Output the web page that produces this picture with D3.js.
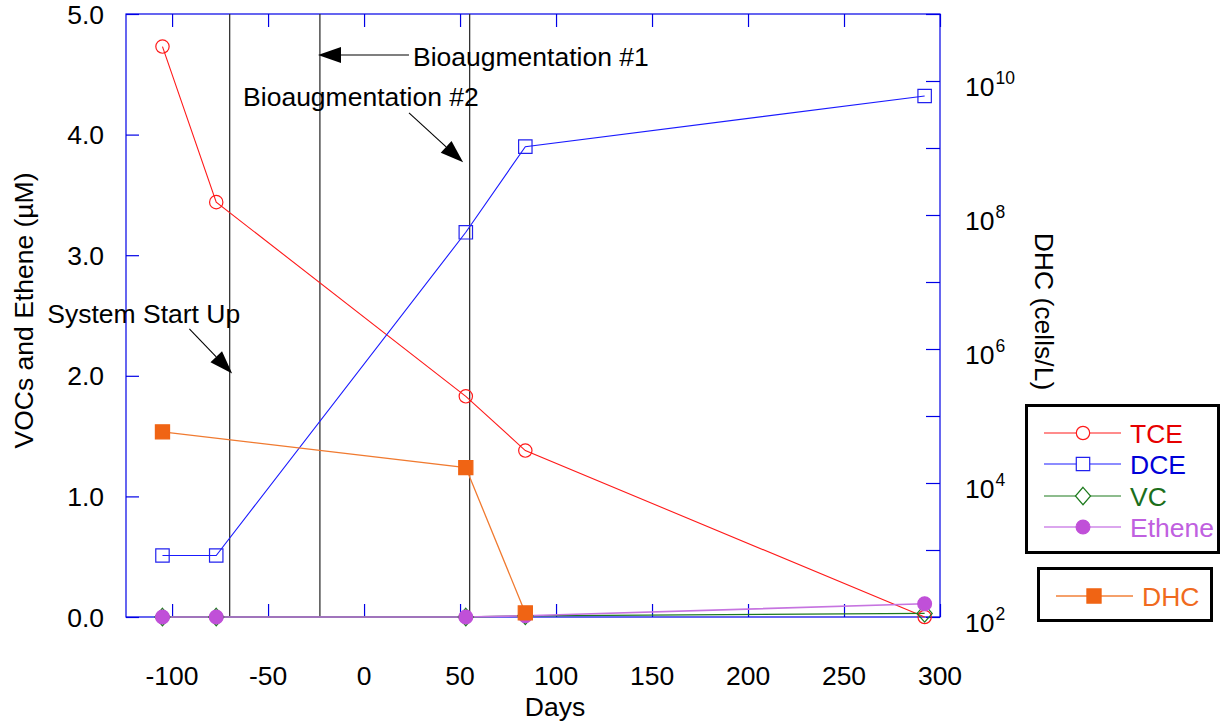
<!DOCTYPE html>
<html>
<head>
<meta charset="utf-8">
<script src="https://cdn.jsdelivr.net/npm/d3@7"></script>
<style>
  html, body { margin: 0; padding: 0; background: #fff; }
  svg { display: block; font-family: "Liberation Sans", Arial, sans-serif; }
</style>
</head>
<body>
<svg id="chart" width="1220" height="721"></svg>
<script>
// ---------------- data ----------------
const sampleDays = [-105, -77, 53, 84, 292];
const tceVals    = [4.73, 3.44, 1.83, 1.38, 0.0];
const dceVals    = [0.51, 0.51, 3.19, 3.90, 4.32];
const vcVals     = [0.0, 0.0, 0.0, 0.01, 0.03];
const etheneVals = [0.0, 0.0, 0.0, 0.01, 0.11];
const dhcDays    = [-105, 53, 84];
const dhcVals    = [5.8e4, 1.7e4, 1.15e2];

const eventDays  = [-70, -23, 55];

const xTicks     = [-100, -50, 0, 50, 100, 150, 200, 250, 300];
const yTicks     = [0, 1, 2, 3, 4, 5];
const yTickLabels = ["0.0", "1.0", "2.0", "3.0", "4.0", "5.0"];
const rTicks     = [1e2, 1e3, 1e4, 1e5, 1e6, 1e7, 1e8, 1e9, 1e10, 1e11];
const rLabelExps = [2, 4, 6, 8, 10];

// annotations in data units (day, µM)
const annoTexts  = ["System Start Up", "Bioaugmentation #1", "Bioaugmentation #2"];
const annoTextAt = [[-165, 2.44], [25.5, 4.57], [-63, 4.24]];
const arrowFrom  = [[-91, 2.39], [23.4, 4.66], [23.4, 4.18]];
const arrowTo    = [[-68.7, 2.02], [-24, 4.66], [51.6, 3.77]];

// ---------------- layout ----------------
const L = 126, R = 940, T = 14, B = 617;
const FONT = 26.5;
const svg = d3.select("#chart");
svg.append("rect").attr("width", 1220).attr("height", 721).attr("fill", "#fff");

const x = d3.scaleLinear().domain([-124, 300]).range([L, R]);
const y = d3.scaleLinear().domain([0, 5]).range([B, T]);
const yr = d3.scaleLog().domain([1e2, 1e11]).range([B, T]);

const axisColor = "#0000e6";

// frame
svg.append("rect").attr("x", L).attr("y", T).attr("width", R - L).attr("height", B - T)
  .attr("fill", "none").attr("stroke", axisColor).attr("stroke-width", 1.2);

// axes using d3 axis generators (inward ticks)
const gB = svg.append("g").attr("transform", `translate(0,${B})`)
  .call(d3.axisBottom(x).tickValues(xTicks).tickSize(-13).tickFormat(""));
const gTop = svg.append("g").attr("transform", `translate(0,${T})`)
  .call(d3.axisTop(x).tickValues(xTicks).tickSize(-13).tickFormat(""));
const gL = svg.append("g").attr("transform", `translate(${L},0)`)
  .call(d3.axisLeft(y).tickValues(yTicks).tickSize(-13).tickFormat(""));
const gR = svg.append("g").attr("transform", `translate(${R},0)`)
  .call(d3.axisRight(yr).tickValues(rTicks).tickSize(-14).tickFormat(""));
[gB, gTop, gL, gR].forEach(g => {
  g.select(".domain").remove();
  g.selectAll(".tick line").attr("stroke", axisColor).attr("stroke-width", 1.2);
});

// tick labels
svg.append("g").selectAll("text").data(xTicks).join("text")
  .attr("x", d => x(d)).attr("y", 685)
  .attr("text-anchor", "middle").attr("font-size", FONT).attr("fill", "#000")
  .text(d => d);
svg.append("g").selectAll("text").data(yTicks).join("text")
  .attr("x", 104).attr("y", d => y(d) + 9.5)
  .attr("text-anchor", "end").attr("font-size", FONT).attr("fill", "#000")
  .text((d, i) => yTickLabels[i]);
const rl = svg.append("g").selectAll("text").data(rLabelExps).join("text")
  .attr("x", 965).attr("y", d => yr(Math.pow(10, d)) + 15)
  .attr("font-size", FONT).attr("fill", "#000");
rl.append("tspan").text("10");
rl.append("tspan").attr("font-size", 17.5).attr("dy", -12).attr("dx", 1).text(d => d);

// axis titles
svg.append("text").attr("transform", `translate(33,${(T + B) / 2 - 5}) rotate(-90)`)
  .attr("text-anchor", "middle").attr("font-size", FONT).attr("fill", "#000")
  .text("VOCs and Ethene (\u00b5M)");
svg.append("text").attr("transform", `translate(1035,${(T + B) / 2 - 4}) rotate(90)`)
  .attr("text-anchor", "middle").attr("font-size", FONT).attr("fill", "#000")
  .text("DHC (cells/L)");
svg.append("text").attr("x", 555).attr("y", 716)
  .attr("text-anchor", "middle").attr("font-size", FONT).attr("fill", "#000")
  .text("Days");

// event lines
svg.append("g").selectAll("line").data(eventDays).join("line")
  .attr("x1", d => x(d)).attr("x2", d => x(d)).attr("y1", T).attr("y2", B)
  .attr("stroke", "#333").attr("stroke-width", 1.3);

// annotations
const ann = svg.append("g");
annoTexts.forEach((t, i) => {
  ann.append("text").attr("x", x(annoTextAt[i][0])).attr("y", y(annoTextAt[i][1]))
    .attr("font-size", FONT).attr("fill", "#000").text(t);
  const x1 = x(arrowFrom[i][0]), y1 = y(arrowFrom[i][1]);
  const x2 = x(arrowTo[i][0]), y2 = y(arrowTo[i][1]);
  const dx = x2 - x1, dy = y2 - y1, len = Math.hypot(dx, dy);
  const ux = dx / len, uy = dy / len, hl = 23, hw = 8;
  const bx = x2 - ux * hl, by = y2 - uy * hl;
  ann.append("line").attr("x1", x1).attr("y1", y1).attr("x2", bx).attr("y2", by)
    .attr("stroke", "#000").attr("stroke-width", 1.1);
  ann.append("path")
    .attr("d", `M${x2},${y2}L${bx - uy * hw},${by + ux * hw}L${bx + uy * hw},${by - ux * hw}Z`)
    .attr("fill", "#000");
});

// ---------------- series ----------------
const symDiamond = {
  draw(ctx, size) {
    const h = Math.sqrt(size) / 2;
    ctx.moveTo(0, -h * 1.15); ctx.lineTo(h, 0); ctx.lineTo(0, h * 1.15); ctx.lineTo(-h, 0); ctx.closePath();
  }
};
const series = [
  { name: "TCE", days: sampleDays, vals: tceVals, sc: y, line: "#ff1a1a", mk: "#ff1a1a", fill: "none", sym: d3.symbolCircle, size: 140, text: "#e60000", lw: 1.1 },
  { name: "DCE", days: sampleDays, vals: dceVals, sc: y, line: "#1a1aff", mk: "#2222ee", fill: "none", sym: d3.symbolSquare, size: 180, text: "#0000d8", lw: 1.1 },
  { name: "VC", days: sampleDays, vals: vcVals, sc: y, line: "#1d7a1d", mk: "#1d7a1d", fill: "none", sym: symDiamond, size: 230, text: "#1b6e1b", lw: 1.3 },
  { name: "Ethene", days: sampleDays, vals: etheneVals, sc: y, line: "#c674e0", mk: "#c050d8", fill: "#c050d8", sym: d3.symbolCircle, size: 150, text: "#c060e0", lw: 1.6 },
  { name: "DHC", days: dhcDays, vals: dhcVals, sc: yr, line: "#f07a30", mk: "#f06414", fill: "#f06414", sym: d3.symbolSquare, size: 200, text: "#f06a20", lw: 1.3 }
];

const plot = svg.append("g");
series.forEach(s => {
  const pts = s.days.map((d, i) => [x(d), s.sc(s.vals[i])]);
  plot.append("path").attr("d", d3.line()(pts)).attr("fill", "none")
    .attr("stroke", s.line).attr("stroke-width", s.lw);
});
series.forEach(s => {
  const pts = s.days.map((d, i) => [x(d), s.sc(s.vals[i])]);
  plot.append("g").selectAll("path").data(pts).join("path")
    .attr("transform", p => `translate(${p[0]},${p[1]})`)
    .attr("d", d3.symbol().type(s.sym).size(s.size))
    .attr("fill", s.fill).attr("stroke", s.mk).attr("stroke-width", 1.2);
});

// ---------------- legends ----------------
const leg = svg.append("g");
leg.append("rect").attr("x", 1026.5).attr("y", 405.5).attr("width", 192).attr("height", 147)
  .attr("fill", "#fff").attr("stroke", "#000").attr("stroke-width", 3);
leg.append("rect").attr("x", 1038.5).attr("y", 568.5).attr("width", 173).attr("height", 52)
  .attr("fill", "#fff").attr("stroke", "#000").attr("stroke-width", 3);

const legendRows = [
  { s: series[0], y: 433, x0: 1044, x1: 1121, mx: 1083, tx: 1130 },
  { s: series[1], y: 464, x0: 1044, x1: 1121, mx: 1083, tx: 1130 },
  { s: series[2], y: 496, x0: 1044, x1: 1121, mx: 1083, tx: 1130 },
  { s: series[3], y: 527, x0: 1044, x1: 1121, mx: 1083, tx: 1130 },
  { s: series[4], y: 596, x0: 1056, x1: 1133, mx: 1094, tx: 1142 }
];
legendRows.forEach(r => {
  const legLine = r.s.name === "Ethene" ? "#dba6ee" : (r.s.name === "DHC" ? "#f5a06a" : r.s.line);
  const legW = (r.s.name === "Ethene" || r.s.name === "DHC") ? 2 : 1.1;
  leg.append("line").attr("x1", r.x0).attr("x2", r.x1).attr("y1", r.y).attr("y2", r.y)
    .attr("stroke", legLine).attr("stroke-width", legW);
  leg.append("path").attr("transform", `translate(${r.mx},${r.y})`)
    .attr("d", d3.symbol().type(r.s.sym).size(r.s.size))
    .attr("fill", r.s.fill === "none" ? "#fff" : r.s.fill).attr("stroke", r.s.mk).attr("stroke-width", 1.2);
  leg.append("text").attr("x", r.tx).attr("y", r.y + 9.5).attr("font-size", FONT)
    .attr("fill", r.s.text).text(r.s.name);
});
</script>
</body>
</html>
